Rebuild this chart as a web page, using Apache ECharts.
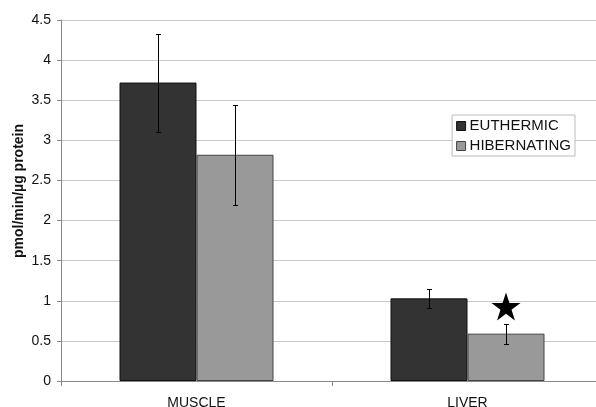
<!DOCTYPE html>
<html><head><meta charset="utf-8">
<script src="https://cdn.jsdelivr.net/npm/echarts@6/dist/echarts.min.js"></script>
<style>html,body{margin:0;padding:0;background:#fff}#c{width:596px;height:407px}</style>
</head><body><div id="c"></div>
<script>
const categories = ['MUSCLE', 'LIVER'];
const euthermic = [3.72, 1.03];
const euthermicErr = [0.61, 0.12];
const hibernating = [2.82, 0.59];
const hibernatingErr = [0.62, 0.125];
const starValues = [null, 0.93];
const yTicks = [0, 0.5, 1, 1.5, 2, 2.5, 3, 3.5, 4, 4.5];
const yTitle = 'pmol/min/µg protein';

const chart = echarts.init(document.getElementById('c'));
const BW = 77;
function errData(vals, errs, idx) {
  return vals.map((v, i) => [i, v - errs[i], v + errs[i], idx]);
}
function renderErr(params, api) {
  const ci = api.value(0), lo = api.value(1), hi = api.value(2), s = api.value(3);
  const pLo = api.coord([ci, lo]), pHi = api.coord([ci, hi]);
  const x = Math.round(pLo[0] + (s === 0 ? -BW / 2 : BW / 2)) + 0.5;
  const style = { stroke: '#000', lineWidth: 1 };
  const yl = Math.round(pLo[1]) + 0.5, yh = Math.round(pHi[1]) + 0.5;
  return { type: 'group', children: [
    { type: 'line', shape: { x1: x, y1: yl, x2: x, y2: yh }, style },
    { type: 'line', shape: { x1: x - 2.5, y1: yh, x2: x + 2.5, y2: yh }, style },
    { type: 'line', shape: { x1: x - 2.5, y1: yl, x2: x + 2.5, y2: yl }, style }
  ]};
}
const font = 'Liberation Sans, Arial, sans-serif';
chart.setOption({
  animation: false,
  textStyle: { fontFamily: font },
  grid: { left: 61, top: 20, width: 542, height: 361, containLabel: false, outerBoundsMode: 'none' },
  graphic: [{
    type: 'text', x: 19, y: 191, rotation: Math.PI / 2,
    style: { text: yTitle, font: 'bold 14px ' + font, fill: '#111', align: 'center', verticalAlign: 'middle' }
  }],
  legend: {
    right: 21, top: 115, orient: 'vertical', itemWidth: 9, itemHeight: 9, itemGap: 4,
    padding: [3, 4, 2, 4], borderColor: '#bbb', borderWidth: 1, backgroundColor: '#fff',
    textStyle: { fontFamily: font, fontSize: 15, lineHeight: 16, color: '#111', padding: [0, 0, 0, -1] },
    data: [
      { name: 'EUTHERMIC', icon: 'rect', itemStyle: { color: '#333', borderColor: '#111', borderWidth: 1 } },
      { name: 'HIBERNATING', icon: 'rect', itemStyle: { color: '#999', borderColor: '#444', borderWidth: 1 } }
    ]
  },
  xAxis: {
    type: 'category', data: categories,
    axisLine: { lineStyle: { color: '#888', width: 1 } },
    axisTick: { show: true, length: 5, lineStyle: { color: '#888' } },
    axisLabel: { color: '#111', fontSize: 14, margin: 15, fontFamily: font },
    splitLine: { show: false }
  },
  yAxis: {
    type: 'value', min: 0, max: 4.5, interval: 0.5,
    axisLine: { show: true, lineStyle: { color: '#888' } },
    axisTick: { show: true, length: 4, lineStyle: { color: '#888' } },
    axisLabel: { color: '#111', fontSize: 14, margin: 10, fontFamily: font,
      formatter: v => yTicks.includes(v) ? String(v) : '' },
    splitLine: { lineStyle: { color: '#c8c8c8', width: 1 } }
  },
  series: [
    { name: 'EUTHERMIC', type: 'bar', data: euthermic, barWidth: BW, barGap: '0%',
      itemStyle: { color: '#333', borderColor: '#111', borderWidth: 1 } },
    { name: 'HIBERNATING', type: 'bar', data: hibernating, barWidth: BW,
      itemStyle: { color: '#999', borderColor: '#444', borderWidth: 1 } },
    { type: 'custom', renderItem: renderErr, data: errData(euthermic, euthermicErr, 0), z: 10 },
    { type: 'custom', renderItem: renderErr, data: errData(hibernating, hibernatingErr, 1), z: 10 },
    { type: 'scatter', data: starValues.map((v, i) => v == null ? null : [i, v]),
      symbol: 'path://M50,0 L61.8,36.2 L100,36.2 L69.1,58.6 L80.9,95.1 L50,72.7 L19.1,95.1 L30.9,58.6 L0,36.2 L38.2,36.2 Z',
      symbolSize: [29, 28], symbolOffset: [BW / 2, 0], itemStyle: { color: '#000', opacity: 1 }, z: 11 }
  ]
});
</script></body></html>
